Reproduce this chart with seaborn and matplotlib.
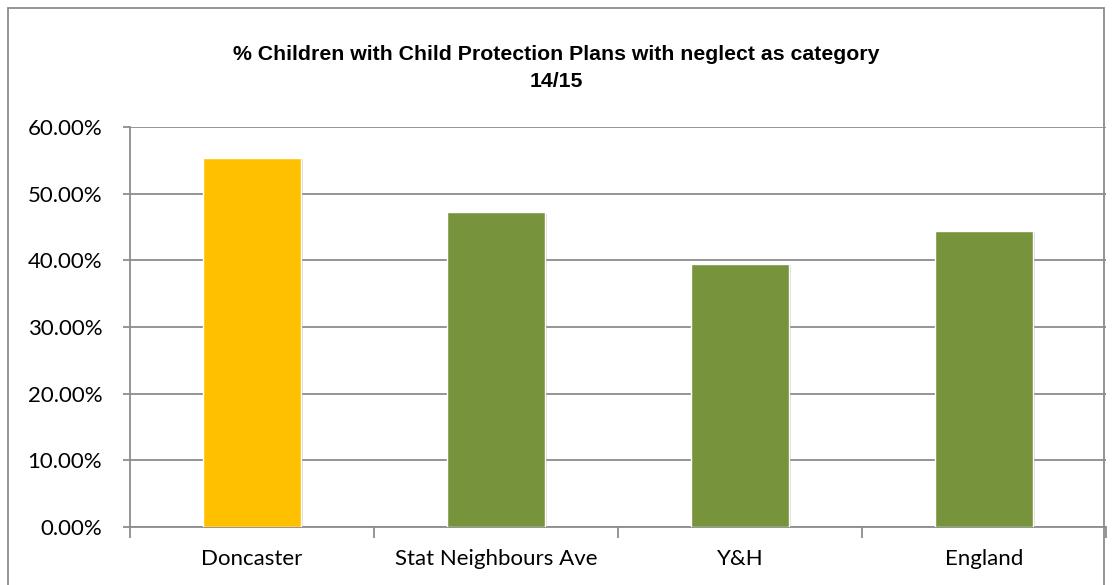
import matplotlib
matplotlib.use("Agg")
import matplotlib.pyplot as plt
import matplotlib.patheffects as pe
from matplotlib.patches import Rectangle
from matplotlib.ticker import FuncFormatter, FixedLocator
import seaborn as sns
import pandas as pd

categories = ["Doncaster", "Stat Neighbours Ave", "Y&H", "England"]
values = [55.4, 47.2, 39.5, 44.4]
colors = ["#FFC000", "#77933C", "#77933C", "#77933C"]
title = "% Children with Child Protection Plans with neglect as category\n14/15"

sns.set_theme(style="white")
plt.rcParams['font.family'] = ['Lato', 'DejaVu Sans']

df = pd.DataFrame({"cat": categories, "val": values})
fig = plt.figure(figsize=(11.12, 5.85), dpi=100)
ax = fig.add_axes([130/1112, 1-527/585, 976/1112, 400/585])

sns.barplot(data=df, x="cat", y="val", hue="cat", palette=colors, legend=False,
            width=0.4, ax=ax, saturation=1, zorder=3)
for p in ax.patches:
    p.set_path_effects([pe.SimplePatchShadow(offset=(1.5, -1), alpha=0.25, shadow_rgbFace="#777777"), pe.Normal()])

ax.set_ylim(0, 60)
ax.set_xlim(-0.5, len(categories) - 0.5)
ax.set_yticks([0, 10, 20, 30, 40, 50, 60])
ax.yaxis.set_major_formatter(FuncFormatter(lambda v, _: f"{v:.2f}%"))
ax.grid(axis="y", color="#8c8c8c", linewidth=1.3, zorder=0)
ax.set_axisbelow(True)
for s in ["top", "right"]:
    ax.spines[s].set_visible(False)
ax.spines["left"].set_color("#8c8c8c")
ax.spines["bottom"].set_color("#8c8c8c")
ax.spines["left"].set_linewidth(1.3)
ax.spines["bottom"].set_linewidth(1.3)
ax.set_xlabel("")
ax.set_ylabel("")
ax.tick_params(axis="y", which="major", length=5, color="#8c8c8c", width=1.3,
               labelsize=16, pad=15, left=True)
ax.tick_params(axis="x", which="major", length=0, labelsize=16, pad=16)
ax.xaxis.set_minor_locator(FixedLocator([i - 0.5 for i in range(len(categories) + 1)]))
ax.tick_params(axis="x", which="minor", length=8, color="#8c8c8c", width=1.3, bottom=True)
for lbl in ax.get_xticklabels() + ax.get_yticklabels():
    lbl.set_color("black")

fig.text(0.5, 1 - 68/585, title, ha="center", va="center", fontsize=15.3,
         fontweight="bold", color="black",
         family=["Liberation Sans", "DejaVu Sans"], linespacing=1.5)

fig.patches.append(Rectangle((8/1112, -0.01), 1096/1112, 1 - 8/585 + 0.01,
                             transform=fig.transFigure, fill=False,
                             edgecolor="#8c8c8c", linewidth=1.3))

fig.savefig("out.png", dpi=100, facecolor="white")
